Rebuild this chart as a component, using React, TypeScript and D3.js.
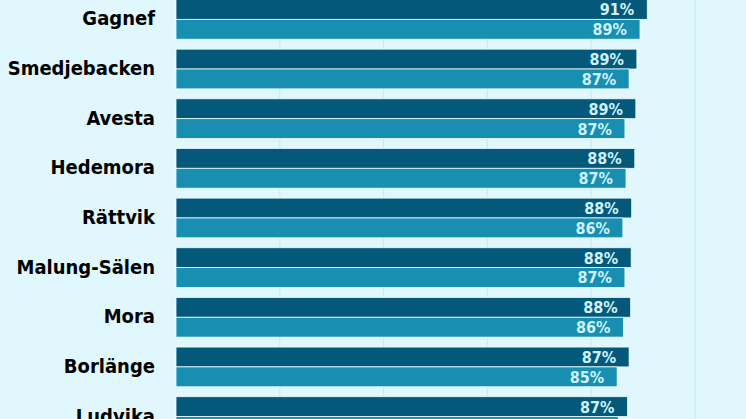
import { useEffect, useRef } from 'react'
import * as d3 from 'd3'

const municipalities = ['Gagnef', 'Smedjebacken', 'Avesta', 'Hedemora', 'Rättvik', 'Malung-Sälen', 'Mora', 'Borlänge', 'Ludvika']
const seriesA = [90.8, 88.8, 88.6, 88.4, 87.8, 87.7, 87.6, 87.3, 87.0]
const seriesB = [89.4, 87.3, 86.5, 86.7, 86.1, 86.5, 86.2, 85.0, 85.2]
const gridTicks = [0, 20, 40, 60, 80, 100]

const W = 746
const H = 419
const FONT = '"DejaVu Sans Condensed", "DejaVu Sans", sans-serif'

export default function App() {
  const svgRef = useRef<SVGSVGElement>(null)

  useEffect(() => {
    if (!svgRef.current) return
    const svg = d3.select(svgRef.current)
    svg.selectAll('*').remove()

    svg.append('rect').attr('width', W).attr('height', H).attr('fill', '#dff7fd')

    const x = d3.scaleLinear().domain([0, 100]).range([176, 695])

    const step = 49.65
    const y = d3.scaleBand<string>()
      .domain(municipalities)
      .range([-0.5, -0.5 + step * (municipalities.length - 0.2)])
      .paddingInner(0.2)
      .paddingOuter(0)

    const sub = d3.scaleBand<string>().domain(['a', 'b']).range([0, y.bandwidth()])

    // gridlines
    svg.append('g')
      .selectAll('line')
      .data(gridTicks.slice(1))
      .enter()
      .append('line')
      .attr('x1', d => x(d))
      .attr('x2', d => x(d))
      .attr('y1', 0)
      .attr('y2', H)
      .attr('stroke', '#c3eaf5')
      .attr('stroke-width', 1)

    const rows = municipalities.map((name, i) => ({ name, a: seriesA[i], b: seriesB[i] }))

    const groups = svg.append('g')
      .selectAll('g.row')
      .data(rows)
      .enter()
      .append('g')
      .attr('class', 'row')
      .attr('transform', d => `translate(0,${y(d.name)})`)

    const keys: Array<'a' | 'b'> = ['a', 'b']
    const colors = { a: '#04587a', b: '#188fb1' }

    keys.forEach(k => {
      groups.append('rect')
        .attr('x', x(0))
        .attr('y', sub(k)!)
        .attr('width', d => x(d[k]) - x(0))
        .attr('height', sub.bandwidth())
        .attr('fill', colors[k])
        .attr('stroke', '#eefcff')
        .attr('stroke-width', 0.8)

      groups.append('text')
        .attr('x', d => x(d[k]) - 13)
        .attr('y', sub(k)! + sub.bandwidth() / 2)
        .attr('dy', '0.37em')
        .attr('text-anchor', 'end')
        .attr('fill', '#cdf2fb')
        .style('font-family', FONT)
        .style('font-weight', '700')
        .style('font-size', '16px')
        .text(d => `${Math.round(d[k])}%`)
    })

    groups.append('text')
      .attr('x', 155)
      .attr('y', y.bandwidth() / 2)
      .attr('dy', '0.3em')
      .attr('text-anchor', 'end')
      .attr('fill', '#000')
      .style('font-family', FONT)
      .style('font-weight', '700')
      .style('font-size', '20px')
      .text(d => d.name)
  }, [])

  return (
    <svg
      ref={svgRef}
      width={W}
      height={H}
      style={{ position: 'fixed', left: 0, top: 0, display: 'block' }}
    />
  )
}
